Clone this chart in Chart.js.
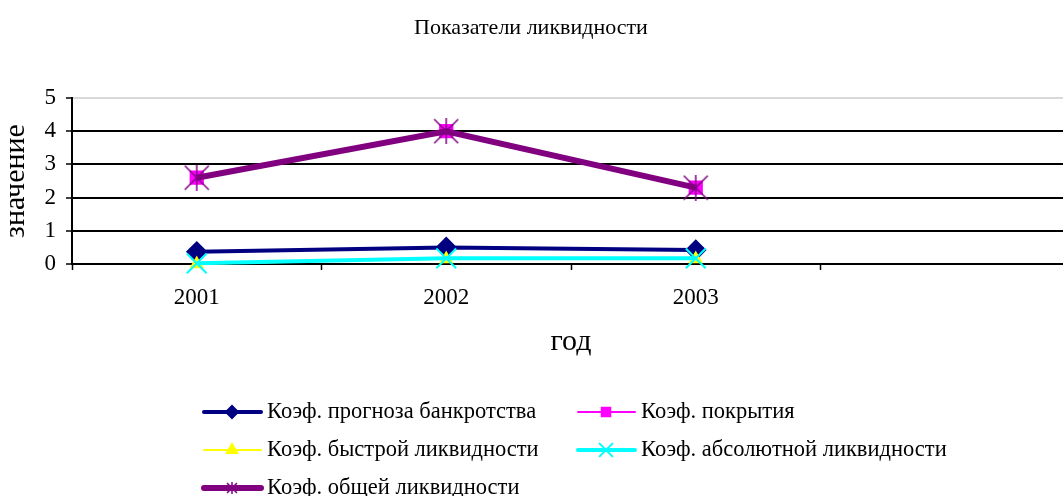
<!DOCTYPE html>
<html>
<head>
<meta charset="utf-8">
<script src="https://cdn.jsdelivr.net/npm/chart.js@4/dist/chart.umd.min.js"></script>
<style>
  html, body { margin: 0; padding: 0; background: #fff; overflow: hidden; }
  /* canvas is a bit wider than the window: the last empty category runs past the right edge, as in the original */
  canvas { display: block; margin-left: -8px; }
</style>
</head>
<body>
<canvas id="grafico" width="1100" height="496"></canvas>
<script>
// data
var anos = ['2001', '2002', '2003', ''];
var prognozBankr = [0.37, 0.5, 0.42];
var pokrytiya = [2.6, 4.0, 2.3];
var bystroiLikv = [0.0, 0.15, 0.15];
var absLikv = [0.02, 0.17, 0.17];
var obscheiLikv = [2.6, 4.0, 2.3];
var nomes = [
  'Коэф. прогноза банкротства',
  'Коэф. покрытия',
  'Коэф. быстрой ликвидности',
  'Коэф. абсолютной ликвидности',
  'Коэф. общей ликвидности'
];
var titulo = 'Показатели ликвидности';
var tituloY = 'значение';
var tituloX = 'год';

var fonte = '"Liberation Serif", "Times New Roman", serif';
var desloc = 8; // canvas is shifted 8px left

function estrela(size, color, lw){
  var c = document.createElement('canvas');
  c.width = size; c.height = size;
  var g = c.getContext('2d');
  g.strokeStyle = color;
  g.lineWidth = lw;
  g.beginPath();
  g.moveTo(1, 1); g.lineTo(size - 1, size - 1);
  g.moveTo(size - 1, 1); g.lineTo(1, size - 1);
  g.moveTo(size / 2, 0); g.lineTo(size / 2, size);
  g.stroke();
  return c;
}

var estrelaGrande = estrela(26, '#800080', 1.5);
var estrelaPequena = estrela(12, '#800080', 1.5);

// title + legend drawn by hand (title centred on the window, legend in two columns)
var legendaPlugin = {
  id: 'legenda',
  afterDraw: function(chart){
    var ctx = chart.ctx;
    ctx.save();
    ctx.fillStyle = '#000';
    ctx.font = '22px ' + fonte;
    ctx.textBaseline = 'middle';
    ctx.textAlign = 'center';
    ctx.fillText(titulo, 531 + desloc, 28);

    var pos = [[204, 412], [578, 412], [204, 450], [578, 450], [204, 488]];
    var marcas = [
      {style: 'rectRot', r: 6, lw: 4},
      {style: 'rect', r: 6, lw: 2},
      {style: 'triangle', r: 6, lw: 2},
      {style: 'crossRot', r: 9, lw: 4},
      {style: estrelaPequena, r: 6, lw: 6}
    ];
    chart.data.datasets.forEach(function(ds, i){
      var x = pos[i][0] + desloc, y = pos[i][1];
      ctx.strokeStyle = ds.borderColor;
      ctx.lineWidth = marcas[i].lw;
      ctx.lineCap = 'round';
      ctx.beginPath();
      ctx.moveTo(x, y);
      ctx.lineTo(x + 57, y);
      ctx.stroke();
      ctx.fillStyle = ds.pointBackgroundColor;
      ctx.strokeStyle = ds.pointBorderColor;
      ctx.lineWidth = 2;
      Chart.helpers.drawPoint(ctx, {pointStyle: marcas[i].style, radius: marcas[i].r, rotation: 0, borderWidth: 2}, x + 28, y);
      ctx.fillStyle = '#000';
      ctx.font = '22.5px ' + fonte;
      ctx.textAlign = 'left';
      ctx.fillText(ds.label, x + 63, y);
    });
    ctx.restore();
  }
};

var ctx = document.getElementById('grafico').getContext('2d');
var myChart = new Chart(ctx, {
  type: 'line',
  plugins: [legendaPlugin],
  data: {
    labels: anos,
    datasets: [
      {
        label: nomes[0],
        data: prognozBankr,
        borderColor: '#000080',
        borderWidth: 4,
        pointStyle: 'rectRot',
        pointRadius: 8,
        pointBackgroundColor: '#000080',
        pointBorderColor: '#000080',
        order: 5,
        clip: false
      },
      {
        label: nomes[1],
        data: pokrytiya,
        borderColor: '#FF00FF',
        borderWidth: 1.5,
        pointStyle: 'rect',
        pointRadius: 9,
        pointBackgroundColor: '#FF00FF',
        pointBorderColor: '#FF00FF',
        order: 4,
        clip: false
      },
      {
        label: nomes[2],
        data: bystroiLikv,
        borderColor: '#FFFF00',
        borderWidth: 1.5,
        pointStyle: 'triangle',
        pointRadius: 7,
        pointBackgroundColor: '#FFFF00',
        pointBorderColor: '#FFFF00',
        order: 3,
        clip: false
      },
      {
        label: nomes[3],
        data: absLikv,
        borderColor: '#00FFFF',
        borderWidth: 4,
        pointStyle: 'crossRot',
        pointRadius: 14,
        pointBorderWidth: 2,
        pointBackgroundColor: '#00FFFF',
        pointBorderColor: '#00FFFF',
        order: 2,
        clip: false
      },
      {
        label: nomes[4],
        data: obscheiLikv,
        borderColor: '#800080',
        borderWidth: 6,
        pointStyle: estrelaGrande,
        pointRadius: 13,
        pointBackgroundColor: '#800080',
        pointBorderColor: '#800080',
        order: 1,
        clip: false
      }
    ]
  },
  options: {
    responsive: false,
    animation: false,
    devicePixelRatio: 1,
    layout: {
      padding: {left: 0, right: 22, top: 98, bottom: 132}
    },
    elements: {
      line: { tension: 0 }
    },
    plugins: {
      legend: { display: false },
      tooltip: { enabled: false },
      title: { display: false }
    },
    scales: {
      x: {
        offset: true,
        afterFit: function(scale){ scale.height = 100; },
        grid: {
          offset: true,
          drawOnChartArea: false,
          drawTicks: true,
          tickLength: 6,
          tickColor: '#000',
          tickWidth: 1.5
        },
        border: { color: '#000', width: 2 },
        ticks: {
          color: '#000',
          padding: 14,
          maxRotation: 0,
          font: { family: fonte, size: 23 }
        },
        title: {
          display: true,
          text: tituloX,
          color: '#000',
          font: { family: fonte, size: 30 },
          padding: { top: 0, bottom: 3.5 }
        }
      },
      y: {
        min: 0,
        max: 5,
        afterFit: function(scale){ scale.width = 80; },
        grid: {
          color: function(c){ return c.tick && c.tick.value === 5 ? '#d9d9d9' : '#000'; },
          lineWidth: 2,
          tickLength: 6,
          tickColor: '#000',
          tickWidth: 1.5
        },
        border: { color: '#000', width: 2 },
        ticks: {
          stepSize: 1,
          color: '#000',
          padding: 10,
          font: { family: fonte, size: 23 }
        },
        title: {
          display: true,
          text: tituloY,
          color: '#000',
          font: { family: fonte, size: 30 },
          padding: { top: 6, bottom: 0 }
        }
      }
    }
  }
});

// make the plot area end at x = 1070 of the window (1078 on the shifted canvas)
var erro = myChart.chartArea.right - (1070 + desloc);
if (Math.abs(erro) > 0.5) {
  myChart.options.layout.padding.right += erro;
  myChart.update();
}
</script>
</body>
</html>
